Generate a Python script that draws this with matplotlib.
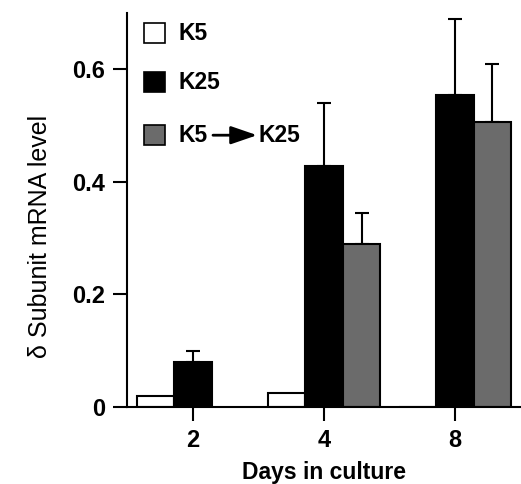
import matplotlib
matplotlib.use('Agg')
import matplotlib.pyplot as plt
import numpy as np

plt.rcParams['font.family'] = ['Liberation Sans', 'DejaVu Sans']

days = ['2', '4', '8']
k5 = [0.02, 0.025, 0.0]
k25 = [0.08, 0.428, 0.554]
k25_err = [0.019, 0.112, 0.136]
k5k25 = [np.nan, 0.29, 0.506]
k5k25_err = [np.nan, 0.055, 0.103]

fig = plt.figure(figsize=(5.21, 4.84), dpi=100)
ax = fig.add_axes([0.244, 0.159, 0.756, 0.814])

x = np.arange(len(days))
w = 0.286
lw = 1.5
ekw = dict(elinewidth=lw, capthick=lw, capsize=5, ecolor='black')

ax.bar(x - w, k5, w, color='white', edgecolor='black', linewidth=lw, zorder=2)
ax.bar(x, k25, w, color='black', edgecolor='black', linewidth=lw, zorder=2)
ax.errorbar(x, k25, yerr=[np.zeros(3), k25_err], fmt='none', zorder=1, **ekw)
ax.bar(x + w, k5k25, w, color='#6b6b6b', edgecolor='black', linewidth=lw, zorder=2)
ax.errorbar(x + w, k5k25, yerr=[np.zeros(3), k5k25_err], fmt='none', zorder=1, **ekw)

ax.set_xlim(-0.504, 2.504)
ax.set_ylim(0, 0.70)
ax.set_xticks(x)
ax.set_xticklabels(days, fontsize=17, fontweight='bold')
ax.set_yticks([0, 0.2, 0.4, 0.6])
ax.set_yticklabels(['0', '0.2', '0.4', '0.6'], fontsize=17, fontweight='bold')
ax.tick_params(direction='out', length=10, width=lw, pad=6)
for s in ['top', 'right']:
    ax.spines[s].set_visible(False)
for s in ['left', 'bottom']:
    ax.spines[s].set_linewidth(lw)

ax.set_xlabel('Days in culture', fontsize=16.5, fontweight='bold', labelpad=6)
ax.set_ylabel('\u03b4 Subunit mRNA level', fontsize=18)
ax.yaxis.set_label_coords(-0.19, 0.434)

# legend drawn by hand (x in axes fraction, y in data)
tr = ax.get_yaxis_transform()
labels = ['K5', 'K25', 'K5']
colors = ['white', 'black', '#6b6b6b']
ys = [0.664, 0.577, 0.483]
for lab, c, yy in zip(labels, colors, ys):
    ax.add_patch(plt.Rectangle((0.043, yy - 0.018), 0.054, 0.036, transform=tr,
                               facecolor=c, edgecolor='black', linewidth=1.2,
                               clip_on=False))
    ax.text(0.13, yy, lab, transform=tr, fontsize=16.5, fontweight='bold', va='center')
ax.annotate('', xy=(0.33, ys[2]), xytext=(0.218, ys[2]), xycoords=tr,
            arrowprops=dict(arrowstyle='-|>,head_length=1.6,head_width=0.55',
                            color='black', lw=2, shrinkA=0, shrinkB=0))
ax.text(0.333, ys[2], 'K25', transform=tr, fontsize=16.5, fontweight='bold', va='center')

fig.savefig('out.png', dpi=100)
